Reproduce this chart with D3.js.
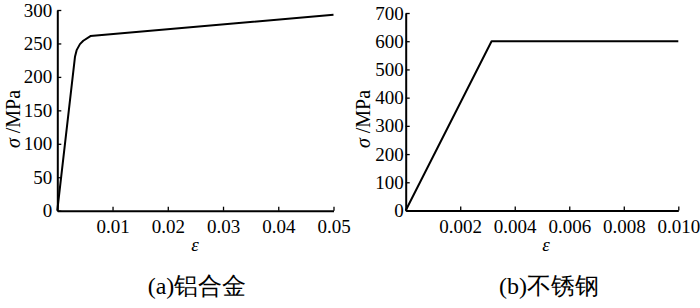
<!DOCTYPE html>
<html>
<head>
<meta charset="utf-8">
<script src="https://cdn.jsdelivr.net/npm/d3@7"></script>
<style>
  body { margin: 0; background: #fff; }
  svg { display: block; }
  text { fill: #000; font-family: "Liberation Serif", "Times New Roman", serif; }
</style>
</head>
<body>
<svg class="chart"></svg>
<script>
const W = 700;
const H = 308;

// (a) aluminium alloy: strain / stress (MPa)
var alStrain = [0, 0.0032, 0.0035, 0.0041, 0.0047, 0.0060, 0.050];
var alStress = [0, 230, 240, 249, 254, 261, 293];
var alXTicks = [0.01, 0.02, 0.03, 0.04, 0.05];
var alYTicks = [0, 50, 100, 150, 200, 250, 300];

// (b) stainless steel
var ssStrain = [0, 0.00315, 0.010];
var ssStress = [0, 600, 600];
var ssXTicks = [0.002, 0.004, 0.006, 0.008, 0.010];
var ssYTicks = [0, 100, 200, 300, 400, 500, 600, 700];

var captions = ["(a)铝合金", "(b)不锈钢"];

var svg = d3.select('.chart')
    .attr("width", W)
    .attr("height", H);

var SERIF = "Liberation Serif, Times New Roman, serif";
var CJK = "Liberation Serif, Noto Sans CJK SC, serif";
var FS = 19;  // tick font size

function panel(o) {
    var x = d3.scaleLinear().domain(o.xDom).range(o.xRange);
    var y = d3.scaleLinear().domain(o.yDom).range(o.yRange);
    var g = svg.append("g");

    // X-axis (ticks point inward)
    var gx = g.append("g")
        .attr("transform", "translate(0," + o.yRange[0] + ")")
        .call(d3.axisBottom(x).tickValues(o.xTicks).tickSizeInner(-4).tickSizeOuter(0)
            .tickFormat(d3.format(o.xFmt)));
    gx.attr("font-family", SERIF).attr("font-size", FS);
    gx.select(".domain").attr("stroke-width", 2);
    gx.selectAll(".tick line").attr("stroke-width", 1.3);
    gx.selectAll(".tick text").attr("y", 9).attr("dy", "0.71em");

    // Y-axis
    var gy = g.append("g")
        .attr("transform", "translate(" + o.xRange[0] + ",0)")
        .call(d3.axisLeft(y).tickValues(o.yTicks).tickSizeInner(-4).tickSizeOuter(0));
    gy.attr("font-family", SERIF).attr("font-size", FS);
    gy.select(".domain").attr("stroke-width", 2);
    gy.selectAll(".tick line").attr("stroke-width", 1.3);
    gy.selectAll(".tick text").attr("x", -o.yLabGap);

    // curve
    var pts = o.xs.map((d, i) => [d, o.ys[i]]);
    g.append("path")
        .datum(pts)
        .attr("fill", "none")
        .attr("stroke", "#000")
        .attr("stroke-width", 2)
        .attr("stroke-linejoin", "round")
        .attr("d", d3.line().x(d => x(d[0])).y(d => y(d[1])));

    // axis titles
    var t = g.append("text")
        .attr("transform", "translate(" + o.yTitleX + ",119) rotate(-90)")
        .attr("text-anchor", "middle")
        .attr("dy", "0.35em")
        .attr("font-family", SERIF)
        .attr("font-size", 20);
    t.append("tspan").attr("font-style", "italic").text("σ");
    t.append("tspan").text(" /MPa");

    g.append("text")
        .attr("x", o.epsX).attr("y", 251)
        .attr("text-anchor", "middle")
        .attr("font-family", SERIF)
        .attr("font-style", "italic")
        .attr("font-size", FS)
        .text("ε");

    g.append("text")
        .attr("x", o.capX).attr("y", 294)
        .attr("text-anchor", "middle")
        .attr("font-family", CJK)
        .attr("font-size", 24)
        .text(o.caption);
}

panel({
    xs: alStrain, ys: alStress,
    xDom: [0, 0.05], xRange: [57.3, 333.5],
    yDom: [0, 300], yRange: [210.7, 10],
    xTicks: alXTicks, yTicks: alYTicks, xFmt: ".2f",
    yLabGap: 5, yTitleX: 13, epsX: 195, capX: 197,
    caption: captions[0]
});

panel({
    xs: ssStrain, ys: ssStress,
    xDom: [0, 0.01], xRange: [405.7, 678.3],
    yDom: [0, 700], yRange: [210.5, 13],
    xTicks: ssXTicks, yTicks: ssYTicks, xFmt: ".3f",
    yLabGap: 2, yTitleX: 363, epsX: 546, capX: 549,
    caption: captions[1]
});
</script>
</body>
</html>
